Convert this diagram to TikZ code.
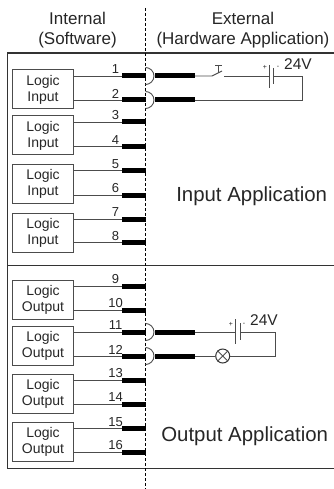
\documentclass[tikz,border=0pt]{standalone}
\usepackage{fontspec}
\setmainfont{Liberation Sans}
\usetikzlibrary{positioning}
\tikzset{
  wire/.style={draw=black!70,line width=0.9pt},
  frameline/.style={draw=black!80,line width=1.1pt},
  border/.style={draw=black,line width=0.8pt,densely dashed},
  pinbar/.style={draw=black,line width=5pt},
  logicbox/.style={draw=black!70,line width=1pt,minimum width=60.5pt,minimum height=39pt,
    inner sep=0pt,align=center,text=black!85,font=\fontsize{14}{16}\selectfont},
  pinno/.style={inner sep=0pt,text=black!85,font=\fontsize{13}{15}\selectfont},
  heading/.style={inner sep=0pt,align=center,text=black!85,font=\fontsize{17}{20}\selectfont},
  bigtext/.style={inner sep=0pt,text=black!85,font=\fontsize{20.4}{24}\selectfont},
  volts/.style={inner sep=0pt,text=black!85,font=\fontsize{15.5}{18}\selectfont},
  polarity/.style={inner sep=0pt,text=black!85,font=\fontsize{7}{8}\selectfont},
  lamp/.style={circle,draw=black!80,line width=1pt,minimum size=14pt,inner sep=0pt}
}
\begin{document}
\begin{tikzpicture}[x=1pt,y=-1pt]
  \useasboundingbox (0,0) rectangle (334,489);

  \node[heading] (internal) at (77.5,30) {Internal\\(Software)};
  \node[heading] (external) at (243,30) {External\\(Hardware Application)};
  \node[bigtext] (inapp) at (251.7,196) {Input Application};
  \node[bigtext] (outapp) at (244.7,436.7) {Output Application};

  % frame
  \coordinate (ftr) at (334,53);
  \coordinate (ftl) at (7.5,53);
  \coordinate (fbl) at (7.5,468.5);
  \coordinate (fbr) at (334,468.5);
  \coordinate (ml) at (7.5,265.5);
  \coordinate (mr) at (334,265.5);
  \draw[frameline] (ftr) -- (ftl) -- (fbl) -- (fbr);
  \draw[frameline] (ml) -- (mr);

  % logic boxes and pins
  \foreach \n/\a/\b/\txt in {1/76/100/Input,2/122/146.7/Input,3/170.7/195/Input,4/219/242.7/Input,
      5/286/310/Output,6/332/356/Output,7/380/404/Output,8/428.3/452/Output}{
    \pgfmathtruncatemacro{\pa}{2*\n-1}
    \pgfmathtruncatemacro{\pb}{2*\n}
    \node[logicbox] (box\n) at (43,\a+13.5) {Logic\\\txt};
    \coordinate (pin\pa) at (122,\a);
    \coordinate (pin\pb) at (122,\b);
    \coordinate (end\pa) at (145.5,\a);
    \coordinate (end\pb) at (145.5,\b);
    \draw[wire] (box\n.east |- pin\pa) -- (pin\pa);
    \draw[wire] (box\n.east |- pin\pb) -- (pin\pb);
    \draw[pinbar] (pin\pa) -- (end\pa);
    \draw[pinbar] (pin\pb) -- (end\pb);
    \node[pinno,xshift=-6.5pt,yshift=6.5pt] (no\pa) at (pin\pa) {\pa};
    \node[pinno,xshift=-6.5pt,yshift=6.5pt] (no\pb) at (pin\pb) {\pb};
  }

  \coordinate (btop) at (145.5,8);
  \coordinate (bbot) at (145.5,489);
  \draw[border] (btop) -- (bbot);

  % sockets and leads
  \foreach \p in {1,2,11,12}{
    \draw[wire] (end\p) ++(0,-8.5) arc[start angle=90,end angle=-90,radius=8.5pt];
    \coordinate (sock\p) at ([xshift=9.5pt]end\p);
    \coordinate (lead\p) at ([xshift=49.5pt]end\p);
    \draw[pinbar] (sock\p) -- (lead\p);
  }

  % input circuit
  \coordinate (swa) at (212,76);
  \coordinate (swb) at (224,76);
  \coordinate (batp) at (269,76);
  \coordinate (batn) at (273.7,76);
  \coordinate (cnr1) at (302.7,76);
  \coordinate (cnr2) at (302.7,100);
  \draw[wire] (lead1) -- (swa) -- (222,71);
  \draw[wire] (swb) -- (batp);
  \draw[wire] (batn) -- (cnr1) -- (cnr2) -- (lead2);
  \draw[wire] (218.3,65) -- (218.3,73);
  \draw[wire] (215,65) -- (222,65);
  \draw[wire] (269,65) -- (269,88);
  \draw[wire] (273.7,68) -- (273.7,84);
  \node[polarity] (plus1) at (265,67.7) {+};
  \node[polarity] (minus1) at (278,67.7) {-};
  \node[volts] (v1) at (298,64.3) {24V};

  % output circuit
  \coordinate (batq) at (235.7,332);
  \coordinate (batm) at (240,332);
  \coordinate (cnr3) at (275.7,332);
  \coordinate (cnr4) at (275.7,356);
  \node[lamp] (bulb) at (222.7,356) {};
  \draw[wire] (lead11) -- (batq);
  \draw[wire] (batm) -- (cnr3) -- (cnr4) -- (bulb);
  \draw[wire] (lead12) -- (bulb);
  \draw[wire] (bulb.north west) -- (bulb.south east);
  \draw[wire] (bulb.north east) -- (bulb.south west);
  \draw[wire] (235.7,319) -- (235.7,344);
  \draw[wire] (240,323) -- (240,340);
  \node[polarity] (plus2) at (231,324) {+};
  \node[polarity] (minus2) at (244,324) {-};
  \node[volts] (v2) at (264,320) {24V};
\end{tikzpicture}
\end{document}
